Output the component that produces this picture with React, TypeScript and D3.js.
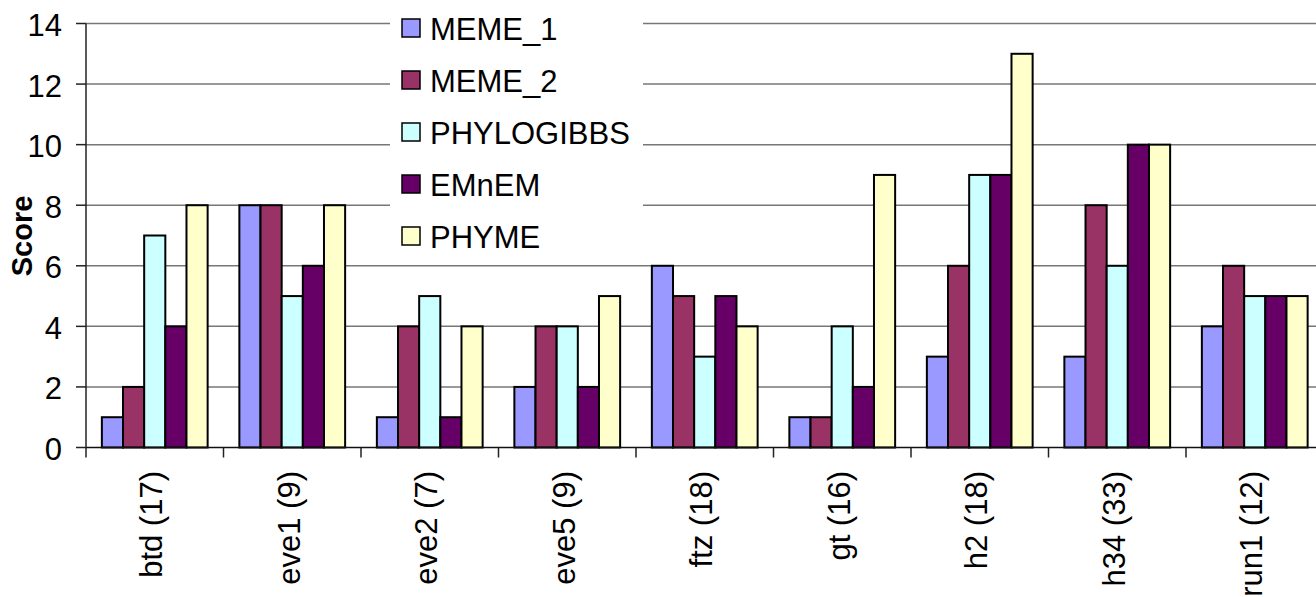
import React from "react";
import * as d3 from "d3";

const categories = ["btd (17)", "eve1 (9)", "eve2 (7)", "eve5 (9)", "ftz (18)", "gt (16)", "h2 (18)", "h34 (33)", "run1 (12)"];
const seriesNames = ["MEME_1", "MEME_2", "PHYLOGIBBS", "EMnEM", "PHYME"];
const meme1 = [1, 8, 1, 2, 6, 1, 3, 3, 4];
const meme2 = [2, 8, 4, 4, 5, 1, 6, 8, 6];
const phylogibbs = [7, 5, 5, 4, 3, 4, 9, 6, 5];
const emnem = [4, 6, 1, 2, 5, 2, 9, 10, 5];
const phyme = [8, 8, 4, 5, 4, 9, 13, 10, 5];
const yTicks = [0, 2, 4, 6, 8, 10, 12, 14];
const colors = ["#9999FF", "#993366", "#CCFFFF", "#660066", "#FFFFCC"];

const seriesValues = [meme1, meme2, phylogibbs, emnem, phyme];

export default function App() {
  const W = 1316, H = 597;
  const left = 86, right = 1323.5, top = 23.5, bottom = 447.5;
  const x = d3.scaleBand().domain(categories).range([left, right]).paddingInner(0).paddingOuter(0);
  const y = d3.scaleLinear().domain([0, 14]).range([bottom, top]);
  const step = x.bandwidth();
  const barW = step / 6.5;
  const inner = d3.scaleBand().domain(seriesNames).range([barW * 0.75, step - barW * 0.75]).padding(0);
  const font = "'Liberation Sans', Arial, sans-serif";
  const legX = 390, legW = 253;
  return (
    <svg width={W} height={H} style={{ position: "absolute", left: 0, top: 0, display: "block", overflow: "hidden" }} fontFamily={font}>
      <rect x={0} y={0} width={W} height={H} fill="#fff" />
      {yTicks.map((t) => (
        <g key={t}>
          {t > 0 && <line x1={left} x2={W} y1={y(t)} y2={y(t)} stroke="#777" strokeWidth={1.5} />}
          <line x1={left - 10} x2={left} y1={y(t)} y2={y(t)} stroke="#222" strokeWidth={1.5} />
          <text x={62} y={y(t) + 2} textAnchor="end" dominantBaseline="central" fontSize={31} fill="#000">{t}</text>
        </g>
      ))}
      {categories.map((c, i) => (
        <g key={c}>
          {seriesValues.map((vals, s) => (
            <rect key={s} x={(x(c) as number) + (inner(seriesNames[s]) as number)} y={y(vals[i])} width={inner.bandwidth()} height={y(0) - y(vals[i])} fill={colors[s]} stroke="#000" strokeWidth={2} />
          ))}
        </g>
      ))}
      <line x1={left} x2={left} y1={top} y2={bottom} stroke="#222" strokeWidth={1.5} />
      <line x1={left} x2={W} y1={bottom} y2={bottom} stroke="#111" strokeWidth={1.5} />
      {categories.map((c, i) => (
        <line key={"t" + i} x1={x(c) as number} x2={x(c) as number} y1={bottom} y2={bottom + 10} stroke="#222" strokeWidth={1.5} />
      ))}
      {categories.map((c) => {
        const cx = (x(c) as number) + step / 2 - 3;
        const cy = 471;
        return (
          <text key={"l" + c} x={cx} y={cy} transform={`rotate(-90 ${cx} ${cy})`} textAnchor="end" dominantBaseline="central" fontSize={31} fill="#000">{c}</text>
        );
      })}
      <text x={22} y={236} transform="rotate(-90 22 236)" textAnchor="middle" dominantBaseline="central" fontSize={29} fontWeight="bold" fill="#000">Score</text>
      <rect x={legX} y={0} width={legW} height={252} fill="#fff" />
      {seriesNames.map((n, i) => {
        const cy = 28 + i * 52;
        return (
          <g key={n}>
            <rect x={402} y={cy - 9} width={18} height={18} fill={colors[i]} stroke="#000" strokeWidth={1.5} />
            <text x={430} y={cy + 1} dominantBaseline="central" fontSize={31} fill="#000">{n}</text>
          </g>
        );
      })}
    </svg>
  );
}
